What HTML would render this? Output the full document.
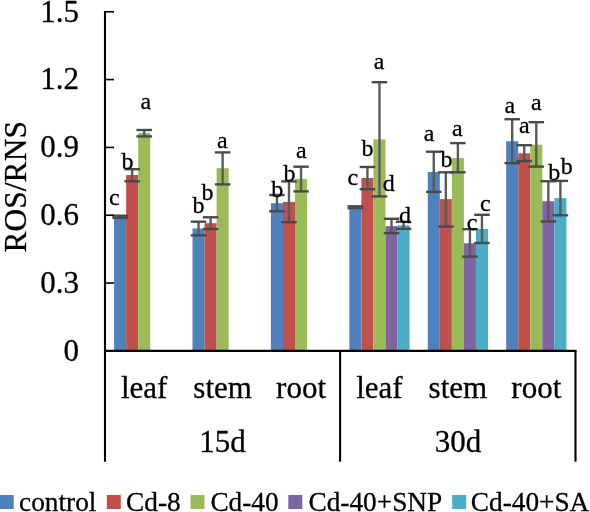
<!DOCTYPE html>
<html><head><meta charset="utf-8"><style>
html,body{margin:0;padding:0;background:#fff;}
body{width:590px;height:512px;overflow:hidden;}
svg{display:block;will-change:transform;}
text{font-family:"Liberation Serif",serif;fill:#000;stroke:#000;stroke-width:0.3px;}
</style></head><body>
<svg width="590" height="512" viewBox="0 0 590 512">

<rect x="114.08" y="218.80" width="12.05" height="132.10" fill="#4F81BD"/>
<rect x="126.13" y="175.00" width="12.05" height="175.90" fill="#C0504D"/>
<rect x="138.18" y="133.00" width="12.05" height="217.90" fill="#9BBB59"/>
<rect x="192.50" y="228.50" width="12.05" height="122.40" fill="#4F81BD"/>
<rect x="204.55" y="223.20" width="12.05" height="127.70" fill="#C0504D"/>
<rect x="216.60" y="168.20" width="12.05" height="182.70" fill="#9BBB59"/>
<rect x="270.92" y="203.20" width="12.05" height="147.70" fill="#4F81BD"/>
<rect x="282.97" y="201.90" width="12.05" height="149.00" fill="#C0504D"/>
<rect x="295.02" y="178.90" width="12.05" height="172.00" fill="#9BBB59"/>
<rect x="349.33" y="209.20" width="12.05" height="141.70" fill="#4F81BD"/>
<rect x="361.38" y="178.00" width="12.05" height="172.90" fill="#C0504D"/>
<rect x="373.43" y="139.40" width="12.05" height="211.50" fill="#9BBB59"/>
<rect x="385.48" y="226.10" width="12.05" height="124.80" fill="#8064A2"/>
<rect x="397.53" y="225.30" width="12.05" height="125.60" fill="#4BACC6"/>
<rect x="427.75" y="172.00" width="12.05" height="178.90" fill="#4F81BD"/>
<rect x="439.80" y="199.10" width="12.05" height="151.80" fill="#C0504D"/>
<rect x="451.85" y="158.00" width="12.05" height="192.90" fill="#9BBB59"/>
<rect x="463.90" y="243.20" width="12.05" height="107.70" fill="#8064A2"/>
<rect x="475.95" y="228.90" width="12.05" height="122.00" fill="#4BACC6"/>
<rect x="506.17" y="141.25" width="12.05" height="209.65" fill="#4F81BD"/>
<rect x="518.22" y="153.30" width="12.05" height="197.60" fill="#C0504D"/>
<rect x="530.27" y="144.70" width="12.05" height="206.20" fill="#9BBB59"/>
<rect x="542.32" y="201.25" width="12.05" height="149.65" fill="#8064A2"/>
<rect x="554.37" y="198.10" width="12.05" height="152.80" fill="#4BACC6"/>
<line x1="120.11" y1="215.70" x2="120.11" y2="217.90" stroke="#5a5a5a" stroke-width="2.4"/>
<line x1="112.36" y1="215.70" x2="127.86" y2="215.70" stroke="#4a4a4a" stroke-width="2.4"/>
<line x1="112.36" y1="217.90" x2="127.86" y2="217.90" stroke="#4a4a4a" stroke-width="2.4"/>
<line x1="132.16" y1="169.20" x2="132.16" y2="181.30" stroke="#5a5a5a" stroke-width="2.4"/>
<line x1="124.41" y1="169.20" x2="139.91" y2="169.20" stroke="#4a4a4a" stroke-width="2.4"/>
<line x1="124.41" y1="181.30" x2="139.91" y2="181.30" stroke="#4a4a4a" stroke-width="2.4"/>
<line x1="144.21" y1="130.00" x2="144.21" y2="136.40" stroke="#5a5a5a" stroke-width="2.4"/>
<line x1="136.46" y1="130.00" x2="151.96" y2="130.00" stroke="#4a4a4a" stroke-width="2.4"/>
<line x1="136.46" y1="136.40" x2="151.96" y2="136.40" stroke="#4a4a4a" stroke-width="2.4"/>
<line x1="198.53" y1="221.70" x2="198.53" y2="235.40" stroke="#5a5a5a" stroke-width="2.4"/>
<line x1="190.78" y1="221.70" x2="206.28" y2="221.70" stroke="#4a4a4a" stroke-width="2.4"/>
<line x1="190.78" y1="235.40" x2="206.28" y2="235.40" stroke="#4a4a4a" stroke-width="2.4"/>
<line x1="210.58" y1="217.30" x2="210.58" y2="229.00" stroke="#5a5a5a" stroke-width="2.4"/>
<line x1="202.83" y1="217.30" x2="218.33" y2="217.30" stroke="#4a4a4a" stroke-width="2.4"/>
<line x1="202.83" y1="229.00" x2="218.33" y2="229.00" stroke="#4a4a4a" stroke-width="2.4"/>
<line x1="222.63" y1="152.40" x2="222.63" y2="184.40" stroke="#5a5a5a" stroke-width="2.4"/>
<line x1="214.88" y1="152.40" x2="230.38" y2="152.40" stroke="#4a4a4a" stroke-width="2.4"/>
<line x1="214.88" y1="184.40" x2="230.38" y2="184.40" stroke="#4a4a4a" stroke-width="2.4"/>
<line x1="276.94" y1="195.00" x2="276.94" y2="211.30" stroke="#5a5a5a" stroke-width="2.4"/>
<line x1="269.19" y1="195.00" x2="284.69" y2="195.00" stroke="#4a4a4a" stroke-width="2.4"/>
<line x1="269.19" y1="211.30" x2="284.69" y2="211.30" stroke="#4a4a4a" stroke-width="2.4"/>
<line x1="288.99" y1="181.40" x2="288.99" y2="222.20" stroke="#5a5a5a" stroke-width="2.4"/>
<line x1="281.24" y1="181.40" x2="296.74" y2="181.40" stroke="#4a4a4a" stroke-width="2.4"/>
<line x1="281.24" y1="222.20" x2="296.74" y2="222.20" stroke="#4a4a4a" stroke-width="2.4"/>
<line x1="301.04" y1="166.70" x2="301.04" y2="191.40" stroke="#5a5a5a" stroke-width="2.4"/>
<line x1="293.29" y1="166.70" x2="308.79" y2="166.70" stroke="#4a4a4a" stroke-width="2.4"/>
<line x1="293.29" y1="191.40" x2="308.79" y2="191.40" stroke="#4a4a4a" stroke-width="2.4"/>
<line x1="355.36" y1="206.30" x2="355.36" y2="208.30" stroke="#5a5a5a" stroke-width="2.4"/>
<line x1="347.61" y1="206.30" x2="363.11" y2="206.30" stroke="#4a4a4a" stroke-width="2.4"/>
<line x1="347.61" y1="208.30" x2="363.11" y2="208.30" stroke="#4a4a4a" stroke-width="2.4"/>
<line x1="367.41" y1="167.00" x2="367.41" y2="189.20" stroke="#5a5a5a" stroke-width="2.4"/>
<line x1="359.66" y1="167.00" x2="375.16" y2="167.00" stroke="#4a4a4a" stroke-width="2.4"/>
<line x1="359.66" y1="189.20" x2="375.16" y2="189.20" stroke="#4a4a4a" stroke-width="2.4"/>
<line x1="379.46" y1="82.20" x2="379.46" y2="196.40" stroke="#5a5a5a" stroke-width="2.4"/>
<line x1="371.71" y1="82.20" x2="387.21" y2="82.20" stroke="#4a4a4a" stroke-width="2.4"/>
<line x1="371.71" y1="196.40" x2="387.21" y2="196.40" stroke="#4a4a4a" stroke-width="2.4"/>
<line x1="391.51" y1="218.80" x2="391.51" y2="233.10" stroke="#5a5a5a" stroke-width="2.4"/>
<line x1="383.76" y1="218.80" x2="399.26" y2="218.80" stroke="#4a4a4a" stroke-width="2.4"/>
<line x1="383.76" y1="233.10" x2="399.26" y2="233.10" stroke="#4a4a4a" stroke-width="2.4"/>
<line x1="403.56" y1="221.70" x2="403.56" y2="228.80" stroke="#5a5a5a" stroke-width="2.4"/>
<line x1="395.81" y1="221.70" x2="411.31" y2="221.70" stroke="#4a4a4a" stroke-width="2.4"/>
<line x1="395.81" y1="228.80" x2="411.31" y2="228.80" stroke="#4a4a4a" stroke-width="2.4"/>
<line x1="433.77" y1="151.70" x2="433.77" y2="191.90" stroke="#5a5a5a" stroke-width="2.4"/>
<line x1="426.02" y1="151.70" x2="441.52" y2="151.70" stroke="#4a4a4a" stroke-width="2.4"/>
<line x1="426.02" y1="191.90" x2="441.52" y2="191.90" stroke="#4a4a4a" stroke-width="2.4"/>
<line x1="445.82" y1="172.30" x2="445.82" y2="226.60" stroke="#5a5a5a" stroke-width="2.4"/>
<line x1="438.07" y1="172.30" x2="453.57" y2="172.30" stroke="#4a4a4a" stroke-width="2.4"/>
<line x1="438.07" y1="226.60" x2="453.57" y2="226.60" stroke="#4a4a4a" stroke-width="2.4"/>
<line x1="457.88" y1="143.10" x2="457.88" y2="172.30" stroke="#5a5a5a" stroke-width="2.4"/>
<line x1="450.12" y1="143.10" x2="465.62" y2="143.10" stroke="#4a4a4a" stroke-width="2.4"/>
<line x1="450.12" y1="172.30" x2="465.62" y2="172.30" stroke="#4a4a4a" stroke-width="2.4"/>
<line x1="469.92" y1="229.20" x2="469.92" y2="256.60" stroke="#5a5a5a" stroke-width="2.4"/>
<line x1="462.17" y1="229.20" x2="477.67" y2="229.20" stroke="#4a4a4a" stroke-width="2.4"/>
<line x1="462.17" y1="256.60" x2="477.67" y2="256.60" stroke="#4a4a4a" stroke-width="2.4"/>
<line x1="481.97" y1="214.80" x2="481.97" y2="243.00" stroke="#5a5a5a" stroke-width="2.4"/>
<line x1="474.22" y1="214.80" x2="489.72" y2="214.80" stroke="#4a4a4a" stroke-width="2.4"/>
<line x1="474.22" y1="243.00" x2="489.72" y2="243.00" stroke="#4a4a4a" stroke-width="2.4"/>
<line x1="512.19" y1="119.20" x2="512.19" y2="163.10" stroke="#5a5a5a" stroke-width="2.4"/>
<line x1="504.44" y1="119.20" x2="519.94" y2="119.20" stroke="#4a4a4a" stroke-width="2.4"/>
<line x1="504.44" y1="163.10" x2="519.94" y2="163.10" stroke="#4a4a4a" stroke-width="2.4"/>
<line x1="524.24" y1="145.20" x2="524.24" y2="161.10" stroke="#5a5a5a" stroke-width="2.4"/>
<line x1="516.49" y1="145.20" x2="531.99" y2="145.20" stroke="#4a4a4a" stroke-width="2.4"/>
<line x1="516.49" y1="161.10" x2="531.99" y2="161.10" stroke="#4a4a4a" stroke-width="2.4"/>
<line x1="536.29" y1="122.20" x2="536.29" y2="166.60" stroke="#5a5a5a" stroke-width="2.4"/>
<line x1="528.54" y1="122.20" x2="544.04" y2="122.20" stroke="#4a4a4a" stroke-width="2.4"/>
<line x1="528.54" y1="166.60" x2="544.04" y2="166.60" stroke="#4a4a4a" stroke-width="2.4"/>
<line x1="548.34" y1="181.25" x2="548.34" y2="221.40" stroke="#5a5a5a" stroke-width="2.4"/>
<line x1="540.59" y1="181.25" x2="556.09" y2="181.25" stroke="#4a4a4a" stroke-width="2.4"/>
<line x1="540.59" y1="221.40" x2="556.09" y2="221.40" stroke="#4a4a4a" stroke-width="2.4"/>
<line x1="560.39" y1="180.90" x2="560.39" y2="215.30" stroke="#5a5a5a" stroke-width="2.4"/>
<line x1="552.64" y1="180.90" x2="568.14" y2="180.90" stroke="#4a4a4a" stroke-width="2.4"/>
<line x1="552.64" y1="215.30" x2="568.14" y2="215.30" stroke="#4a4a4a" stroke-width="2.4"/>
<line x1="105" y1="10.9" x2="105" y2="461.7" stroke="#000" stroke-width="2.1"/>
<line x1="105" y1="283.07" x2="114" y2="283.07" stroke="#000" stroke-width="1.6"/>
<line x1="105" y1="215.24" x2="114" y2="215.24" stroke="#000" stroke-width="1.6"/>
<line x1="105" y1="147.41" x2="114" y2="147.41" stroke="#000" stroke-width="1.6"/>
<line x1="105" y1="79.58" x2="114" y2="79.58" stroke="#000" stroke-width="1.6"/>
<line x1="105" y1="11.75" x2="114" y2="11.75" stroke="#000" stroke-width="1.6"/>
<line x1="104" y1="350.9" x2="576.5" y2="350.9" stroke="#000" stroke-width="2.1"/>
<line x1="340.1" y1="350.9" x2="340.1" y2="461.7" stroke="#000" stroke-width="2.1"/>
<line x1="575.5" y1="350.9" x2="575.5" y2="461.7" stroke="#000" stroke-width="2.1"/>
<text x="79" y="360.80" font-size="31" text-anchor="end">0</text>
<text x="79" y="292.97" font-size="31" text-anchor="end">0.3</text>
<text x="79" y="225.14" font-size="31" text-anchor="end">0.6</text>
<text x="79" y="157.31" font-size="31" text-anchor="end">0.9</text>
<text x="79" y="89.48" font-size="31" text-anchor="end">1.2</text>
<text x="79" y="21.65" font-size="31" text-anchor="end">1.5</text>
<text transform="translate(25.8,186.75) rotate(-90)" font-size="31.5" text-anchor="middle">ROS/RNS</text>
<text x="144.21" y="397.5" font-size="31" text-anchor="middle">leaf</text>
<text x="222.62" y="397.5" font-size="31" text-anchor="middle">stem</text>
<text x="301.04" y="397.5" font-size="31" text-anchor="middle">root</text>
<text x="379.46" y="397.5" font-size="31" text-anchor="middle">leaf</text>
<text x="457.88" y="397.5" font-size="31" text-anchor="middle">stem</text>
<text x="536.29" y="397.5" font-size="31" text-anchor="middle">root</text>
<text x="222.62" y="451.9" font-size="31" text-anchor="middle">15d</text>
<text x="457.88" y="451.9" font-size="31" text-anchor="middle">30d</text>
<text x="108.90" y="204.90" font-size="24">c</text>
<text x="121.60" y="168.60" font-size="24">b</text>
<text x="140.60" y="109.10" font-size="24">a</text>
<text x="192.40" y="213.40" font-size="24">b</text>
<text x="201.50" y="199.80" font-size="24">b</text>
<text x="216.90" y="148.00" font-size="24">a</text>
<text x="271.30" y="196.50" font-size="24">b</text>
<text x="283.40" y="180.50" font-size="24">b</text>
<text x="296.00" y="157.50" font-size="24">a</text>
<text x="347.60" y="185.30" font-size="24">c</text>
<text x="361.60" y="155.80" font-size="24">b</text>
<text x="373.80" y="69.00" font-size="24">a</text>
<text x="382.75" y="191.00" font-size="24">d</text>
<text x="399.00" y="222.70" font-size="24">d</text>
<text x="423.80" y="141.10" font-size="24">a</text>
<text x="440.40" y="166.60" font-size="24">b</text>
<text x="451.90" y="136.40" font-size="24">a</text>
<text x="466.80" y="229.70" font-size="24">c</text>
<text x="480.10" y="211.00" font-size="24">c</text>
<text x="504.50" y="112.70" font-size="24">a</text>
<text x="519.00" y="133.00" font-size="24">a</text>
<text x="531.00" y="109.50" font-size="24">a</text>
<text x="548.30" y="179.70" font-size="24">b</text>
<text x="560.80" y="174.20" font-size="24">b</text>
<rect x="-0.3" y="495" width="14" height="14" fill="#4F81BD"/>
<text x="19.10" y="511" font-size="27.3">control</text>
<rect x="106.8" y="495" width="14" height="14" fill="#C0504D"/>
<text x="126.10" y="511" font-size="27.3">Cd-8</text>
<rect x="190.5" y="495" width="14" height="14" fill="#9BBB59"/>
<text x="210.40" y="511" font-size="27.3">Cd-40</text>
<rect x="288.3" y="495" width="14" height="14" fill="#8064A2"/>
<text x="308.50" y="511" font-size="27.3">Cd-40+SNP</text>
<rect x="452.2" y="495" width="14" height="14" fill="#4BACC6"/>
<text x="470.80" y="511" font-size="27.3">Cd-40+SA</text>
</svg></body></html>
